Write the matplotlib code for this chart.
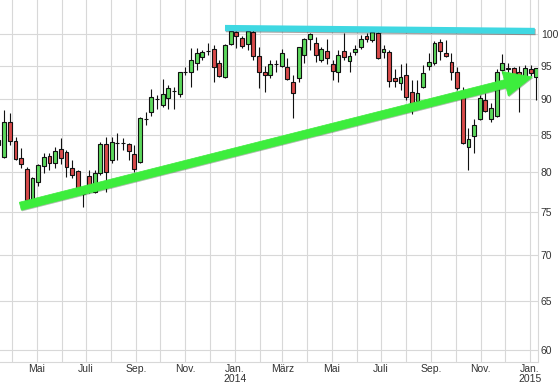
import matplotlib
matplotlib.use("Agg")
import matplotlib.pyplot as plt
import matplotlib.dates as mdates
import matplotlib.patheffects as pe
import pandas as pd
import numpy as np

# ---- data (weekly candles) ----
first_week = "2013-03-15"
opens = [84.30, 81.97, 86.73, 84.12, 81.84, 80.40, 76.60, 78.73, 80.79, 82.10,
         81.18, 83.04, 82.64, 80.53, 80.14, 77.22, 79.49, 77.47, 79.88, 83.71,
         81.57, 83.85, 83.85, 83.71, 82.37, 81.31, 87.15, 88.14, 90.02, 89.15,
         90.17, 91.19, 90.75, 94.04, 94.04, 95.42, 96.35, 97.29, 97.60, 95.42,
         93.29, 98.40, 100.32, 99.36, 98.40, 100.32, 96.51, 94.04, 93.59, 95.27,
         94.96, 94.81, 92.53, 93.14, 96.66, 99.20, 98.56, 95.89, 97.29, 95.27,
         94.04, 97.29, 95.73, 97.13, 97.92, 99.68, 99.03, 100.16, 97.13, 97.13,
         93.14, 92.38, 93.59, 91.05, 89.73, 91.79, 94.96, 95.42, 98.72, 96.98,
         95.58, 94.04, 91.19, 83.31, 84.80, 87.15, 89.87, 87.15, 87.57, 94.35,
         94.65, 94.65, 94.04, 93.29, 94.50, 93.29]
closes = [83.60, 86.73, 84.12, 81.71, 81.05, 76.47, 79.24, 80.92, 81.97, 81.18,
          82.77, 81.84, 80.66, 79.62, 77.84, 77.22, 78.09, 79.88, 83.71, 80.01,
          83.98, 83.85, 83.85, 82.77, 80.40, 87.29, 87.15, 90.31, 90.02, 90.75,
          91.64, 91.19, 94.04, 94.04, 95.89, 96.98, 97.13, 97.29, 94.81, 93.44,
          98.24, 100.49, 99.68, 98.08, 100.49, 96.51, 94.04, 93.59, 95.27, 95.27,
          96.98, 92.98, 90.90, 97.92, 99.20, 100.00, 96.66, 97.60, 96.20, 94.20,
          96.66, 96.35, 96.51, 97.60, 99.20, 99.20, 100.32, 96.20, 97.60, 92.68,
          92.68, 93.29, 90.31, 89.00, 90.90, 93.89, 95.58, 98.56, 97.29, 96.51,
          94.04, 91.64, 83.85, 84.39, 86.31, 90.17, 88.28, 88.71, 94.04, 95.42,
          94.50, 93.29, 93.14, 94.65, 93.89, 94.65]
highs = [85.00, 88.43, 88.00, 84.66, 83.17, 80.66, 79.37, 81.05, 82.50, 82.50,
         83.31, 84.52, 82.90, 81.57, 80.27, 78.09, 80.27, 80.27, 83.98, 84.66,
         84.66, 85.21, 84.52, 83.85, 83.58, 87.43, 88.14, 91.49, 90.60, 92.98,
         92.08, 91.79, 94.04, 94.81, 97.76, 97.76, 97.45, 98.56, 98.24, 95.89,
         98.40, 100.81, 100.49, 99.68, 100.65, 100.65, 97.92, 94.96, 95.89, 95.89,
         97.60, 96.20, 93.59, 97.92, 99.36, 100.16, 99.52, 97.92, 99.20, 95.89,
         97.45, 100.16, 97.13, 98.24, 99.84, 100.16, 100.49, 100.32, 98.24, 97.45,
         94.50, 95.27, 95.42, 92.83, 92.83, 95.11, 96.98, 98.87, 99.20, 99.03,
         96.98, 94.81, 91.79, 85.90, 87.15, 90.60, 90.90, 89.44, 94.50, 96.82,
         95.42, 94.81, 94.96, 95.11, 95.11, 94.65]
lows = [83.20, 81.84, 83.58, 81.57, 80.53, 76.35, 76.47, 78.22, 79.88, 80.27,
        80.53, 81.05, 79.37, 79.24, 77.34, 75.61, 77.34, 77.34, 79.62, 77.47,
        81.18, 81.57, 82.90, 81.57, 80.01, 81.18, 86.31, 87.57, 88.57, 88.86,
        88.57, 88.57, 90.31, 93.59, 91.79, 94.35, 95.89, 96.66, 92.53, 93.29,
        93.14, 98.24, 97.76, 97.76, 97.45, 95.89, 91.64, 91.05, 93.14, 94.04,
        94.81, 92.83, 87.29, 92.53, 95.42, 97.45, 95.58, 95.58, 95.27, 92.83,
        92.53, 95.89, 94.04, 96.66, 97.60, 98.72, 98.72, 96.04, 96.20, 91.79,
        91.79, 91.34, 89.87, 87.86, 89.15, 91.64, 94.35, 95.11, 95.89, 96.35,
        92.83, 91.34, 83.71, 80.27, 82.50, 87.01, 88.14, 86.73, 87.43, 93.89,
        93.89, 92.53, 88.14, 92.83, 93.44, 89.87]

y_ticks = [60, 65, 70, 75, 80, 85, 90, 95, 100]
month_ticks = ["2013-05-01", "2013-07-01", "2013-09-01", "2013-11-01", "2014-01-01",
               "2014-03-01", "2014-05-01", "2014-07-01", "2014-09-01", "2014-11-01",
               "2015-01-01"]
month_labels = ["Mai", "Juli", "Sep.", "Nov.", "Jan.\n2014", "März", "Mai", "Juli",
                "Sep.", "Nov.", "Jan.\n2015"]

# trend lines (annotations)
support_start = ("2013-04-11", 75.7)
support_end = ("2015-01-04", 93.3)
resist_start = ("2013-12-20", 100.97)
resist_end = ("2015-01-07", 100.49)

# ---- figure ----
fig = plt.figure(figsize=(5.59, 3.92), dpi=100)
fig.patch.set_facecolor("white")
ax = fig.add_axes([0, 30 / 392, 538 / 559, 362 / 392])

dates = pd.date_range(first_week, periods=len(opens), freq="7D")
x = mdates.date2num(dates)

green = "#5cd85c"
red = "#d84a4a"
for xi, o, h, l, c in zip(x, opens, highs, lows, closes):
    ax.vlines(xi, l, h, color="#111111", lw=0.8, zorder=2)
    col = green if c >= o else red
    ax.bar(xi, abs(c - o), bottom=min(o, c), width=4.8, color=col,
           edgecolor="#111111", linewidth=0.8, zorder=3)

ax.set_yscale("log")
ax.set_ylim(58.85, 105.65)
ax.set_xlim(mdates.date2num(pd.Timestamp("2013-03-16 20:00")),
            mdates.date2num(pd.Timestamp("2015-01-11")))

# grid
all_months = pd.date_range("2013-04-01", "2015-01-01", freq="MS")
for m in all_months:
    ax.axvline(mdates.date2num(m), color="#d8d8d8", lw=0.8, zorder=0)
for yv in y_ticks:
    ax.axhline(yv, color="#d8d8d8", lw=0.8, zorder=0)

ax.yaxis.tick_right()
ax.set_yticks(y_ticks)
ax.set_yticklabels([str(v) for v in y_ticks])
ax.yaxis.set_minor_locator(matplotlib.ticker.NullLocator())
ax.set_xticks(mdates.date2num(pd.to_datetime(month_ticks)))
ax.set_xticklabels(month_labels)
ax.tick_params(axis="both", length=0, labelsize=7.5, labelcolor="#333333")
ax.tick_params(axis="y", pad=2)
ax.tick_params(axis="x", pad=1.5)
for lab in ax.get_xticklabels() + ax.get_yticklabels():
    lab.set_family("Liberation Sans")
for lab in ax.get_xticklabels():
    lab.set_linespacing(1.0)

for s in ["left", "top"]:
    ax.spines[s].set_visible(False)
for s in ["bottom", "right"]:
    ax.spines[s].set_color("#d8d8d8")
    ax.spines[s].set_linewidth(0.8)

# resistance line
ax.plot(mdates.date2num(pd.to_datetime([resist_start[0], resist_end[0]])),
        [resist_start[1], resist_end[1]], color="#3fd8e2", lw=4.5,
        solid_capstyle="butt", zorder=5,
        path_effects=[pe.SimpleLineShadow(offset=(0.6, -0.8), alpha=0.35),
                      pe.Normal()])

# support arrow
ann = ax.annotate("", xy=(mdates.date2num(pd.Timestamp(support_end[0])), support_end[1]),
                  xytext=(mdates.date2num(pd.Timestamp(support_start[0])), support_start[1]),
                  arrowprops=dict(arrowstyle="simple,head_length=0.72,head_width=0.65,tail_width=0.21",
                                  mutation_scale=28, facecolor="#3ded3d", edgecolor="#3ded3d",
                                  lw=0.5, shrinkA=0, shrinkB=0),
                  zorder=6)
ann.arrow_patch.set_path_effects([pe.SimplePatchShadow(offset=(0.6, -0.8), alpha=0.35),
                                  pe.Normal()])

fig.savefig("out.png", dpi=100)
